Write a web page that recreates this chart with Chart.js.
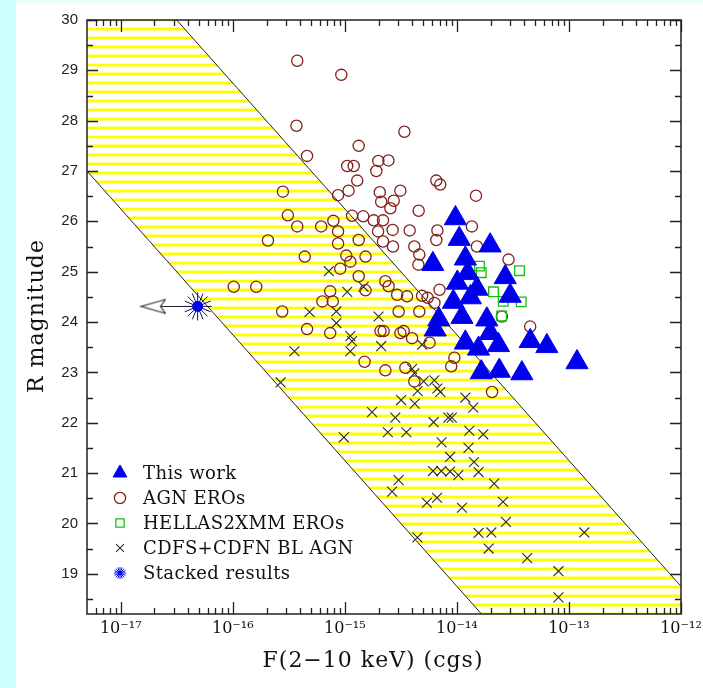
<!DOCTYPE html>
<html>
<head>
<meta charset="utf-8">
<title>R magnitude vs F(2-10 keV)</title>
<script src="https://cdn.jsdelivr.net/npm/chart.js@4/dist/chart.umd.min.js"></script>
<style>
  html, body { margin: 0; padding: 0; }
  body { width: 703px; height: 688px; background: #ccfefe; position: relative; overflow: hidden; }
  #topStrip { position: absolute; left: 16px; top: 0; width: 687px; height: 4px; background: #eefefe; }
  #panel { position: absolute; left: 16px; top: 4px; width: 687px; height: 684px; background: #fff; }
  #fluxChart { position: absolute; left: 0; top: 0; }
</style>
</head>
<body>
<div id="topStrip"></div>
<div id="panel"></div>
<canvas id="fluxChart" width="703" height="688"></canvas>
<script>
// [F(2-10 keV) in cgs, R magnitude]
const thisWork = [
  [9.7e-15, 26.06], [1.05e-14, 25.65], [1.98e-14, 25.52], [6.1e-15, 25.15], [1.19e-14, 25.26],
  [1.25e-14, 24.97], [2.7e-14, 24.89], [1.01e-14, 24.78], [1.51e-14, 24.66], [2.99e-14, 24.52],
  [1.32e-14, 24.49], [9.3e-15, 24.40], [6.9e-15, 24.05], [1.85e-14, 24.05], [1.11e-14, 24.10],
  [6.4e-15, 23.85], [1.98e-14, 23.78], [1.19e-14, 23.59], [1.56e-14, 23.47], [2.35e-14, 23.54],
  [4.51e-14, 23.62], [6.35e-14, 23.52], [1.18e-13, 23.20], [1.65e-14, 23.00], [2.39e-14, 23.03],
  [3.8e-14, 22.98]
];

const agnEros = [
  [3.76e-16, 29.19], [9.3e-16, 28.91], [3.7e-16, 27.90], [4.6e-16, 27.30], [1.33e-15, 27.50],
  [1.05e-15, 27.10], [1.2e-15, 27.10], [1.29e-15, 26.81], [1.08e-15, 26.61], [8.7e-16, 26.52],
  [2.8e-16, 26.59], [3.1e-16, 26.12], [3.76e-16, 25.90], [6.15e-16, 25.90], [7.9e-16, 26.01],
  [8.7e-16, 25.80], [1.16e-15, 26.11], [2.06e-16, 25.62], [8.7e-16, 25.56], [1.33e-15, 25.63],
  [3.4e-15, 27.78], [1.99e-15, 27.20], [2.45e-15, 27.21], [1.91e-15, 27.00], [6.55e-15, 26.81],
  [7.1e-15, 26.73], [1.48e-14, 26.51], [2.05e-15, 26.58], [3.13e-15, 26.61], [2.73e-15, 26.41],
  [2.11e-15, 26.39], [2.55e-15, 26.26], [4.56e-15, 26.21], [1.46e-15, 26.10], [1.81e-15, 26.02],
  [2.19e-15, 26.02], [1.98e-15, 25.80], [2.67e-15, 25.83], [3.79e-15, 25.82], [6.7e-15, 25.82],
  [6.55e-15, 25.63], [1.36e-14, 25.90], [2.19e-15, 25.60], [2.69e-15, 25.50], [4.17e-15, 25.50],
  [4.62e-15, 25.34], [1.51e-14, 25.50], [4.53e-15, 25.14], [1.53e-15, 25.30], [1.12e-15, 25.20],
  [1.33e-15, 24.91], [1.53e-15, 24.63], [2.3e-15, 24.81], [2.46e-15, 24.71], [2.93e-15, 24.54],
  [3.59e-15, 24.51], [4.89e-15, 24.52], [5.48e-15, 24.48], [7.0e-15, 24.64], [6.3e-15, 24.38],
  [3.02e-15, 24.21], [4.62e-15, 24.21], [2.52e-14, 24.11], [2.89e-14, 25.24], [2.08e-15, 23.82],
  [2.22e-15, 23.82], [3.13e-15, 23.78], [3.35e-15, 23.82], [3.98e-15, 23.68], [5.71e-15, 23.59],
  [4.51e-14, 23.91], [4.39e-16, 25.30], [1.03e-15, 25.32], [9.1e-16, 25.06], [1.02e-16, 24.70],
  [1.62e-16, 24.70], [7.4e-16, 24.61], [6.3e-16, 24.41], [7.8e-16, 24.41], [2.76e-16, 24.21],
  [4.6e-16, 23.86], [7.4e-16, 23.78], [1.5e-15, 23.21], [2.3e-15, 23.04], [3.47e-15, 23.09],
  [4.17e-15, 22.82], [9.5e-15, 23.29], [8.9e-15, 23.12], [2.06e-14, 22.61]
];

const hellasEros = [
  [1.59e-14, 25.11], [1.65e-14, 24.98], [3.62e-14, 25.02], [2.12e-14, 24.60], [2.59e-14, 24.41],
  [3.75e-14, 24.40], [2.51e-14, 24.12]
];

const cdfBlAgn = [
  [7.2e-16, 25.01], [1.05e-15, 24.60], [1.47e-15, 24.70], [4.84e-16, 24.20], [8.4e-16, 24.21],
  [8.4e-16, 23.98], [2.0e-15, 24.11], [1.12e-15, 23.72], [1.16e-15, 23.62], [1.12e-15, 23.42],
  [3.55e-16, 23.42], [2.67e-16, 22.80], [2.11e-15, 23.52], [4.89e-15, 23.55], [3.98e-15, 23.07],
  [4.17e-15, 22.98], [5.05e-15, 22.82], [6.29e-15, 22.84], [6.7e-15, 22.68], [7.11e-15, 22.61],
  [4.46e-15, 22.63], [3.18e-15, 22.45], [4.21e-15, 22.38], [1.19e-14, 22.50], [1.40e-14, 22.30],
  [1.75e-15, 22.21], [2.82e-15, 22.10], [8.4e-15, 22.10], [9.0e-15, 22.10], [6.2e-15, 22.01],
  [2.42e-15, 21.81], [3.54e-15, 21.81], [1.29e-14, 21.84], [1.72e-14, 21.77], [9.8e-16, 21.71],
  [7.3e-15, 21.61], [1.27e-14, 21.50], [8.7e-15, 21.32], [1.42e-14, 21.22], [6.12e-15, 21.04],
  [7.26e-15, 21.04], [8.7e-15, 21.03], [1.03e-14, 20.96], [1.56e-14, 21.02], [3.02e-15, 20.86],
  [2.64e-15, 20.63], [5.4e-15, 20.41], [6.65e-15, 20.51], [2.15e-14, 20.79], [2.58e-14, 20.43],
  [1.11e-14, 20.31], [2.74e-14, 20.03], [1.56e-14, 19.81], [2.03e-14, 19.82], [1.37e-13, 19.82],
  [4.44e-15, 19.72], [1.92e-14, 19.50], [4.24e-14, 19.31], [8.06e-14, 19.05], [8.06e-14, 18.53]
];

// stacked flux is an upper limit: arrow runs from the point to the tip
const stacked = [[4.86e-17, 24.31]];
const stackedArrow = [[4.86e-17, 24.31], [2.27e-17, 24.31]];
const stackedArrowTip = [[1.5e-17, 24.31]];

// log(fX/fO) = +1 and -1 edges of the shaded strip
const stripUpper = [[5e-18, 32.0], [1e-12, 18.75]];
const stripLower = [[5e-18, 27.0], [1e-12, 13.75]];

const xTicks = [1e-17, 1e-16, 1e-15, 1e-14, 1e-13, 1e-12];
const xTickLabels = ['10\u207B\u00B9\u2077', '10\u207B\u00B9\u2076', '10\u207B\u00B9\u2075',
                     '10\u207B\u00B9\u2074', '10\u207B\u00B9\u00B3', '10\u207B\u00B9\u00B2'];
const yTicks = [19, 20, 21, 22, 23, 24, 25, 26, 27, 28, 29, 30];
const legendLabels = ['This work', 'AGN EROs', 'HELLAS2XMM EROs', 'CDFS+CDFN BL AGN', 'Stacked results'];
const xTitle = 'F(2\u221210 keV) (cgs)';
const yTitle = 'R magnitude';

const BLUE = '#0000ee';
const EROS_RED = '#80201c';
const GREEN = '#10c010';
const CROSS = '#2a2a2a';

const toXY = arr => arr.map(p => ({ x: p[0], y: p[1] }));

// horizontal yellow hatching for the strip
function stripePattern() {
  const c = document.createElement('canvas');
  c.width = 4; c.height = 9;
  const g = c.getContext('2d');
  g.fillStyle = 'rgba(255,255,0,0.45)'; g.fillRect(0, 0, 4, 1);
  g.fillStyle = '#ffff00'; g.fillRect(0, 1, 4, 2);
  g.fillStyle = 'rgba(255,255,0,0.45)'; g.fillRect(0, 3, 4, 1);
  return g.createPattern(c, 'repeat');
}

// open arrow head, tip at the image centre
function arrowHead() {
  const c = document.createElement('canvas');
  c.width = 52; c.height = 18;
  const g = c.getContext('2d');
  g.beginPath();
  g.moveTo(26.5, 9); g.lineTo(51, 2); g.lineTo(46, 9); g.lineTo(51, 16); g.closePath();
  g.fillStyle = '#fff'; g.fill();
  g.strokeStyle = '#222'; g.lineWidth = 1.1; g.stroke();
  return c;
}

const ctx = document.getElementById('fluxChart').getContext('2d');

const datasets = [
  { data: toXY(stripUpper), showLine: true, borderColor: '#222', borderWidth: 1, pointRadius: 0,
    backgroundColor: stripePattern(), fill: '+1', order: 20 },
  { data: toXY(stripLower), showLine: true, borderColor: '#222', borderWidth: 1, pointRadius: 0,
    fill: false, order: 19 },
  { label: legendLabels[3], data: toXY(cdfBlAgn), pointStyle: 'crossRot', pointRadius: 7,
    pointBorderColor: CROSS, pointBorderWidth: 1.1, order: 6 },
  { label: legendLabels[1], data: toXY(agnEros), pointStyle: 'circle', pointRadius: 5.6,
    pointBackgroundColor: 'rgba(0,0,0,0)', pointBorderColor: EROS_RED, pointBorderWidth: 1.3, order: 5 },
  { label: legendLabels[2], data: toXY(hellasEros), pointStyle: 'rect', pointRadius: 6.8,
    pointBackgroundColor: 'rgba(0,0,0,0)', pointBorderColor: GREEN, pointBorderWidth: 1.3, order: 4 },
  { label: legendLabels[0], data: toXY(thisWork), pointStyle: 'triangle', pointRadius: 12.8,
    pointBackgroundColor: BLUE, pointBorderColor: BLUE, pointBorderWidth: 1, order: 3 },
  { data: toXY(stackedArrow), showLine: true, borderColor: '#222', borderWidth: 1.1, pointRadius: 0, order: 2 },
  { data: toXY(stackedArrowTip), pointStyle: arrowHead(), pointRadius: 10, order: 2 },
  { label: legendLabels[4], data: toXY(stacked), pointStyle: 'star', pointRadius: 14,
    pointBorderColor: '#151540', pointBorderWidth: 1, order: 1 },
  { data: toXY(stacked), pointStyle: 'star', pointRadius: 14, pointRotation: 22.5,
    pointBorderColor: '#151540', pointBorderWidth: 1, order: 1 },
  { data: toXY(stacked), pointStyle: 'circle', pointRadius: 5,
    pointBackgroundColor: BLUE, pointBorderColor: BLUE, pointBorderWidth: 1, order: 0 }
];

// boxed frame with inward major/minor ticks on all four sides
const frameTicks = {
  id: 'frameTicks',
  afterDatasetsDraw(chart) {
    const { ctx, chartArea: a, scales: { x, y } } = chart;
    ctx.save();
    ctx.strokeStyle = '#222';
    ctx.lineWidth = 1.3;
    ctx.beginPath();
    for (let v = 18.5; v <= 30; v += 0.5) {
      if (v < y.min) continue;
      const py = Math.round(y.getPixelForValue(v)) + 0.5;
      const len = Number.isInteger(v) ? 11 : 6;
      ctx.moveTo(a.left, py); ctx.lineTo(a.left + len, py);
      ctx.moveTo(a.right, py); ctx.lineTo(a.right - len, py);
    }
    for (let e = -18; e <= -12; e++) {
      for (let k = 1; k <= 9; k++) {
        const v = k * Math.pow(10, e);
        if (v < x.min * 1.0001 || v > x.max * 1.0001) continue;
        const px = Math.round(x.getPixelForValue(v)) + 0.5;
        const len = k === 1 ? 12 : 6;
        ctx.moveTo(px, a.bottom); ctx.lineTo(px, a.bottom - len);
        ctx.moveTo(px, a.top); ctx.lineTo(px, a.top + len);
      }
    }
    ctx.stroke();
    ctx.lineWidth = 1.5;
    ctx.strokeRect(a.left, a.top, a.right - a.left, a.bottom - a.top);
    ctx.restore();
  }
};

// axis titles and the boxed-in legend
const titlesLegend = {
  id: 'titlesLegend',
  afterDraw(chart) {
    const { ctx, chartArea: a } = chart;
    ctx.save();
    ctx.fillStyle = '#111';
    ctx.font = '22px "DejaVu Serif"';
    ctx.letterSpacing = '1px';
    ctx.textAlign = 'center';
    ctx.textBaseline = 'alphabetic';
    ctx.fillText(xTitle, 373, 667);
    ctx.save();
    ctx.translate(43, 316);
    ctx.rotate(-Math.PI / 2);
    ctx.fillText(yTitle, 0, 0);
    ctx.restore();

    const rows = [
      { ds: 5, r: 8 }, { ds: 3, r: 5.6 }, { ds: 4, r: 5.8 }, { ds: 2, r: 5.6 }, { ds: 8, r: 6 }
    ];
    const sx = a.left + 33;
    ctx.textAlign = 'left';
    ctx.letterSpacing = '0.4px';
    ctx.font = '18px "DejaVu Serif"';
    rows.forEach((row, i) => {
      const ds = chart.data.datasets[row.ds];
      const cy = a.bottom - 141 + i * 25;
      ctx.save();
      ctx.lineWidth = ds.pointBorderWidth;
      ctx.strokeStyle = row.ds === 8 ? BLUE : ds.pointBorderColor;
      ctx.fillStyle = ds.pointBackgroundColor || 'rgba(0,0,0,0)';
      Chart.helpers.drawPoint(ctx, { pointStyle: ds.pointStyle, radius: row.r, rotation: 0, borderWidth: 1 }, sx, cy);
      if (row.ds === 8) {
        Chart.helpers.drawPoint(ctx, { pointStyle: 'star', radius: row.r, rotation: 22.5, borderWidth: 1 }, sx, cy);
      }
      ctx.restore();
      ctx.fillText(legendLabels[i], sx + 23, cy + 6);
    });
    ctx.restore();
  }
};

const fluxChart = new Chart(ctx, {
  type: 'scatter',
  data: { datasets },
  options: {
    responsive: false,
    animation: false,
    events: [],
    layout: { padding: { left: 0, right: 22, top: 20, bottom: 0 } },
    plugins: { legend: { display: false }, tooltip: { enabled: false } },
    scales: {
      x: {
        type: 'logarithmic',
        min: 5e-18,
        max: 1e-12,
        grid: { display: false, drawTicks: false },
        border: { display: false },
        afterBuildTicks: s => { s.ticks = xTicks.map(v => ({ value: v })); },
        afterFit: s => { s.height = 74; s.paddingLeft = 0; s.paddingRight = 0; },
        ticks: {
          autoSkip: false,
          maxRotation: 0,
          padding: 5,
          color: '#111',
          font: { family: 'DejaVu Serif', size: 16 },
          callback: (v, i) => xTickLabels[i]
        }
      },
      y: {
        min: 18.2,
        max: 30,
        grid: { display: false, drawTicks: false },
        border: { display: false },
        afterBuildTicks: s => { s.ticks = yTicks.map(v => ({ value: v })); },
        afterFit: s => { s.width = 87; s.paddingTop = 0; s.paddingBottom = 0; },
        ticks: {
          padding: 9,
          color: '#222',
          font: { family: 'Liberation Sans', size: 15 },
          callback: v => String(v)
        }
      }
    }
  },
  plugins: [frameTicks, titlesLegend]
});
</script>
</body>
</html>
